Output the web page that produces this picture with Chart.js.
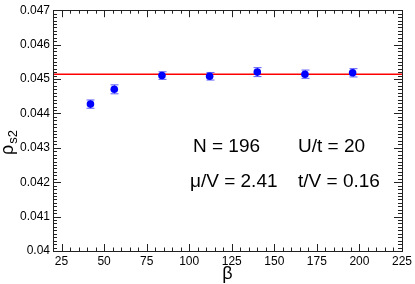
<!DOCTYPE html>
<html>
<head>
<meta charset="utf-8">
<script src="https://cdn.jsdelivr.net/npm/chart.js@4/dist/chart.umd.min.js"></script>
<style>
  body { margin: 0; background: #fff; }
</style>
</head>
<body>
<canvas id="myChart" width="415" height="284"></canvas>
<script>
// data
const betas = [42, 56, 84, 112, 140, 168, 196]
const rhoS2 = [0.04427, 0.04470, 0.04510, 0.04508, 0.04520, 0.04514, 0.04518]
const rhoErr = [0.00012, 0.00013, 0.00011, 0.00011, 0.00013, 0.00012, 0.00012]
const fitValue = 0.04514
const xRange = [20, 225]
const yRange = [0.04, 0.047]
const xTicks = [25, 50, 75, 100, 125, 150, 175, 200, 225]
const yTicks = [0.04, 0.041, 0.042, 0.043, 0.044, 0.045, 0.046, 0.047]
const yTickLabels = ["0.04", "0.041", "0.042", "0.043", "0.044", "0.045", "0.046", "0.047"]
const notes = [["N = 196", "U/t = 20"], ["\u03bc/V = 2.41", "t/V = 0.16"]]

const FONT = "'Liberation Sans', Arial, Helvetica, sans-serif"

// error bars, drawn right after the red line so the dots sit on top
const errorBars = {
  id: "errorBars",
  afterDatasetDraw(chart, args) {
    if (args.index !== 0) return
    const ctx = chart.ctx, xs = chart.scales.x, ys = chart.scales.y
    ctx.save()
    ctx.strokeStyle = "#5c5cff"
    ctx.lineWidth = 1
    betas.forEach((b, i) => {
      const px = Math.round(xs.getPixelForValue(b)) + 0.5
      const top = ys.getPixelForValue(rhoS2[i] + rhoErr[i])
      const bot = ys.getPixelForValue(rhoS2[i] - rhoErr[i])
      ctx.beginPath()
      ctx.moveTo(px, top); ctx.lineTo(px, bot)
      ctx.moveTo(px - 4, top); ctx.lineTo(px + 4, top)
      ctx.moveTo(px - 4, bot); ctx.lineTo(px + 4, bot)
      ctx.stroke()
    })
    ctx.restore()
  }
}

// ROOT-like frame with ticks pointing inwards, titles and the text box
const frame = {
  id: "frame",
  afterDraw(chart) {
    const ctx = chart.ctx, a = chart.chartArea
    const xs = chart.scales.x, ys = chart.scales.y
    ctx.save()
    ctx.strokeStyle = "#222"
    ctx.lineWidth = 1
    ctx.strokeRect(Math.round(a.left) + 0.5, Math.round(a.top) + 0.5,
      Math.round(a.right - a.left), Math.round(a.bottom - a.top))
    ctx.beginPath()
    for (let v = xRange[0]; v <= xRange[1]; v += 5) {
      const px = Math.round(xs.getPixelForValue(v)) + 0.5
      const len = v % 25 === 0 ? 7 : 3.5
      ctx.moveTo(px, a.bottom); ctx.lineTo(px, a.bottom - len)
      ctx.moveTo(px, a.top); ctx.lineTo(px, a.top + len)
    }
    for (let k = 0; k <= 70; k++) {
      const v = yRange[0] + k * 0.0001
      const py = Math.round(ys.getPixelForValue(v)) + 0.5
      const len = k % 10 === 0 ? 8 : 4
      ctx.moveTo(a.left, py); ctx.lineTo(a.left + len, py)
      ctx.moveTo(a.right, py); ctx.lineTo(a.right - len, py)
    }
    ctx.stroke()

    // x title
    ctx.fillStyle = "#000"
    ctx.font = "18px " + FONT
    ctx.textAlign = "center"
    ctx.textBaseline = "alphabetic"
    ctx.fillText("\u03b2", (a.left + a.right) / 2, 279)

    // y title rho_s2, rotated
    ctx.save()
    ctx.translate(13, 155)
    ctx.rotate(-Math.PI / 2)
    ctx.textAlign = "left"
    ctx.font = "18px " + FONT
    ctx.fillText("\u03c1", 0, 0)
    const w = ctx.measureText("\u03c1").width
    ctx.font = "13px " + FONT
    ctx.fillText("s2", w + 1, 4)
    ctx.restore()

    // parameters
    ctx.font = "19px " + FONT
    ctx.textAlign = "left"
    ctx.fillText(notes[0][0], a.left + 140, 152)
    ctx.fillText(notes[0][1], a.left + 245, 152)
    ctx.fillText(notes[1][0], a.left + 137, 187)
    ctx.fillText(notes[1][1], a.left + 245, 187)
    ctx.restore()
  }
}

const chart = new Chart("myChart", {
  type: "scatter",
  data: {
    datasets: [{
        label: "fit",
        data: xRange.map(x => ({ x: x, y: fitValue })),
        showLine: true,
        borderColor: "#ff0000",
        borderWidth: 1.5,
        pointRadius: 0,
        order: 2
      }, {
        label: "rho_s2",
        data: betas.map((b, i) => ({ x: b, y: rhoS2[i] })),
        backgroundColor: "#0000ff",
        borderColor: "#0000ff",
        pointRadius: 3.8,
        pointBorderWidth: 0,
        order: 1
      }
    ]
  },
  options: {
    responsive: false,
    devicePixelRatio: 1,
    animation: false,
    layout: { padding: { left: 0, right: 11, top: 5, bottom: 0 } },
    plugins: { legend: { display: false }, tooltip: { enabled: false } },
    scales: {
      x: {
        type: "linear",
        min: xRange[0],
        max: xRange[1],
        afterBuildTicks: s => { s.ticks = xTicks.map(v => ({ value: v })) },
        afterFit: s => { s.height = 33 },
        grid: { display: false, drawTicks: false },
        border: { display: false },
        ticks: {
          color: "#000",
          padding: 3,
          maxRotation: 0,
          autoSkip: false,
          font: { family: FONT, size: 12 },
          callback: v => String(v)
        }
      },
      y: {
        type: "linear",
        min: yRange[0],
        max: yRange[1],
        afterBuildTicks: s => { s.ticks = yTicks.map(v => ({ value: v })) },
        afterFit: s => { s.width = 53 },
        grid: { display: false, drawTicks: false },
        border: { display: false },
        ticks: {
          color: "#000",
          padding: 3,
          autoSkip: false,
          font: { family: FONT, size: 12 },
          callback: (v, i) => yTickLabels[i]
        }
      }
    }
  },
  plugins: [errorBars, frame]
})
</script>
</body>
</html>
